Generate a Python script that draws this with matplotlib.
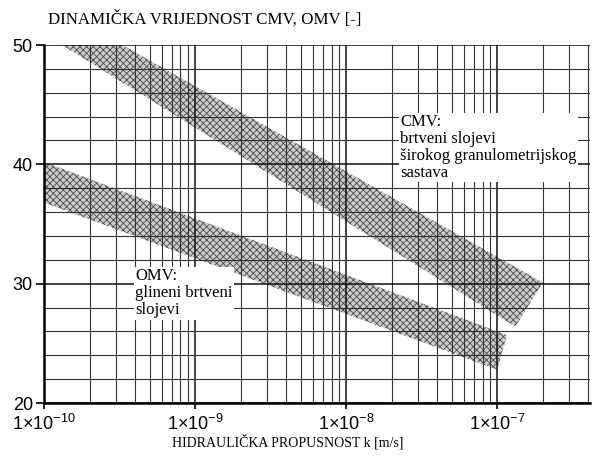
import matplotlib
matplotlib.use('Agg')
import matplotlib.pyplot as plt
import numpy as np
from matplotlib.ticker import LogLocator, MultipleLocator, FixedLocator, NullFormatter

plt.rcParams['mathtext.fontset'] = 'custom'
plt.rcParams['mathtext.rm'] = 'Liberation Sans'
plt.rcParams['mathtext.it'] = 'Liberation Sans:italic'
plt.rcParams['hatch.linewidth'] = 0.6

# pojas CMV (brtveni slojevi širokog granulometrijskog sastava)
cmv_k = [3.3e-10, 2.0e-7, 1.32e-7, 1.32e-10]
cmv_v = [50.0, 30.1, 26.4, 50.0]

# pojas OMV (glineni brtveni slojevi)
omv_k = [1.0e-10, 1.16e-7, 1.0e-7, 1.0e-10]
omv_v = [40.2, 25.7, 22.8, 36.8]

x_ticks = [1e-10, 1e-9, 1e-8, 1e-7]
x_labels = [r'$1{\times}10^{-10}$', r'$1{\times}10^{-9}$', r'$1{\times}10^{-8}$', r'$1{\times}10^{-7}$']
y_ticks = [20, 30, 40, 50]

fig = plt.figure(figsize=(5.95, 4.57), dpi=100)
ax = fig.add_axes([0.074, 0.118, 0.918, 0.7835])

ax.set_xscale('log')
ax.set_xlim(1e-10, 4.13e-7)
ax.set_ylim(20, 50)

for k, v in ((cmv_k, cmv_v), (omv_k, omv_v)):
    ax.fill(k, v, facecolor='#cccccc', edgecolor='#4a4a4a', hatch='xxxxx',
            linewidth=0, zorder=1)

ax.xaxis.set_major_locator(FixedLocator(x_ticks))
ax.set_xticklabels(x_labels)
ax.xaxis.set_minor_locator(LogLocator(base=10, subs=np.arange(2, 10)))
ax.xaxis.set_minor_formatter(NullFormatter())
ax.yaxis.set_major_locator(FixedLocator(y_ticks))
ax.yaxis.set_minor_locator(MultipleLocator(2))

ax.grid(True, which='major', color='#111111', linewidth=1.1)
ax.grid(True, which='minor', color='#333333', linewidth=0.8)

ax.tick_params(which='major', direction='out', width=1.2, colors='black')
ax.tick_params(axis='y', which='major', length=6, pad=2, labelsize=13)
ax.tick_params(axis='x', which='major', length=4, pad=4, labelsize=13)
ax.tick_params(which='minor', length=0)
for lab in ax.get_xticklabels() + ax.get_yticklabels():
    lab.set_fontfamily('Liberation Sans')

for s in ['top', 'right']:
    ax.spines[s].set_visible(False)
for s in ['left', 'bottom']:
    ax.spines[s].set_linewidth(1.8)

serif = 'Liberation Serif'
fig.text(0.081, 0.958, 'DINAMIČKA VRIJEDNOST CMV, OMV [-]', family=serif,
         fontsize=12.2, va='center', ha='left')
fig.text(0.483, 0.034, 'HIDRAULIČKA PROPUSNOST k [m/s]', family=serif,
         fontsize=10, va='center', ha='center')

box = dict(facecolor='white', edgecolor='none', pad=1)
ax.text(2.28e-8, 41.4, 'CMV:\nbrtveni slojevi\nširokog granulometrijskog\nsastava',
        family=serif, fontsize=12, va='center', ha='left', linespacing=1.08,
        bbox=box, zorder=3)
ax.text(4.0e-10, 29.2, 'OMV:\nglineni brtveni\nslojevi',
        family=serif, fontsize=12, va='center', ha='left', linespacing=1.08,
        bbox=box, zorder=3)

fig.savefig('out.png', dpi=100)
